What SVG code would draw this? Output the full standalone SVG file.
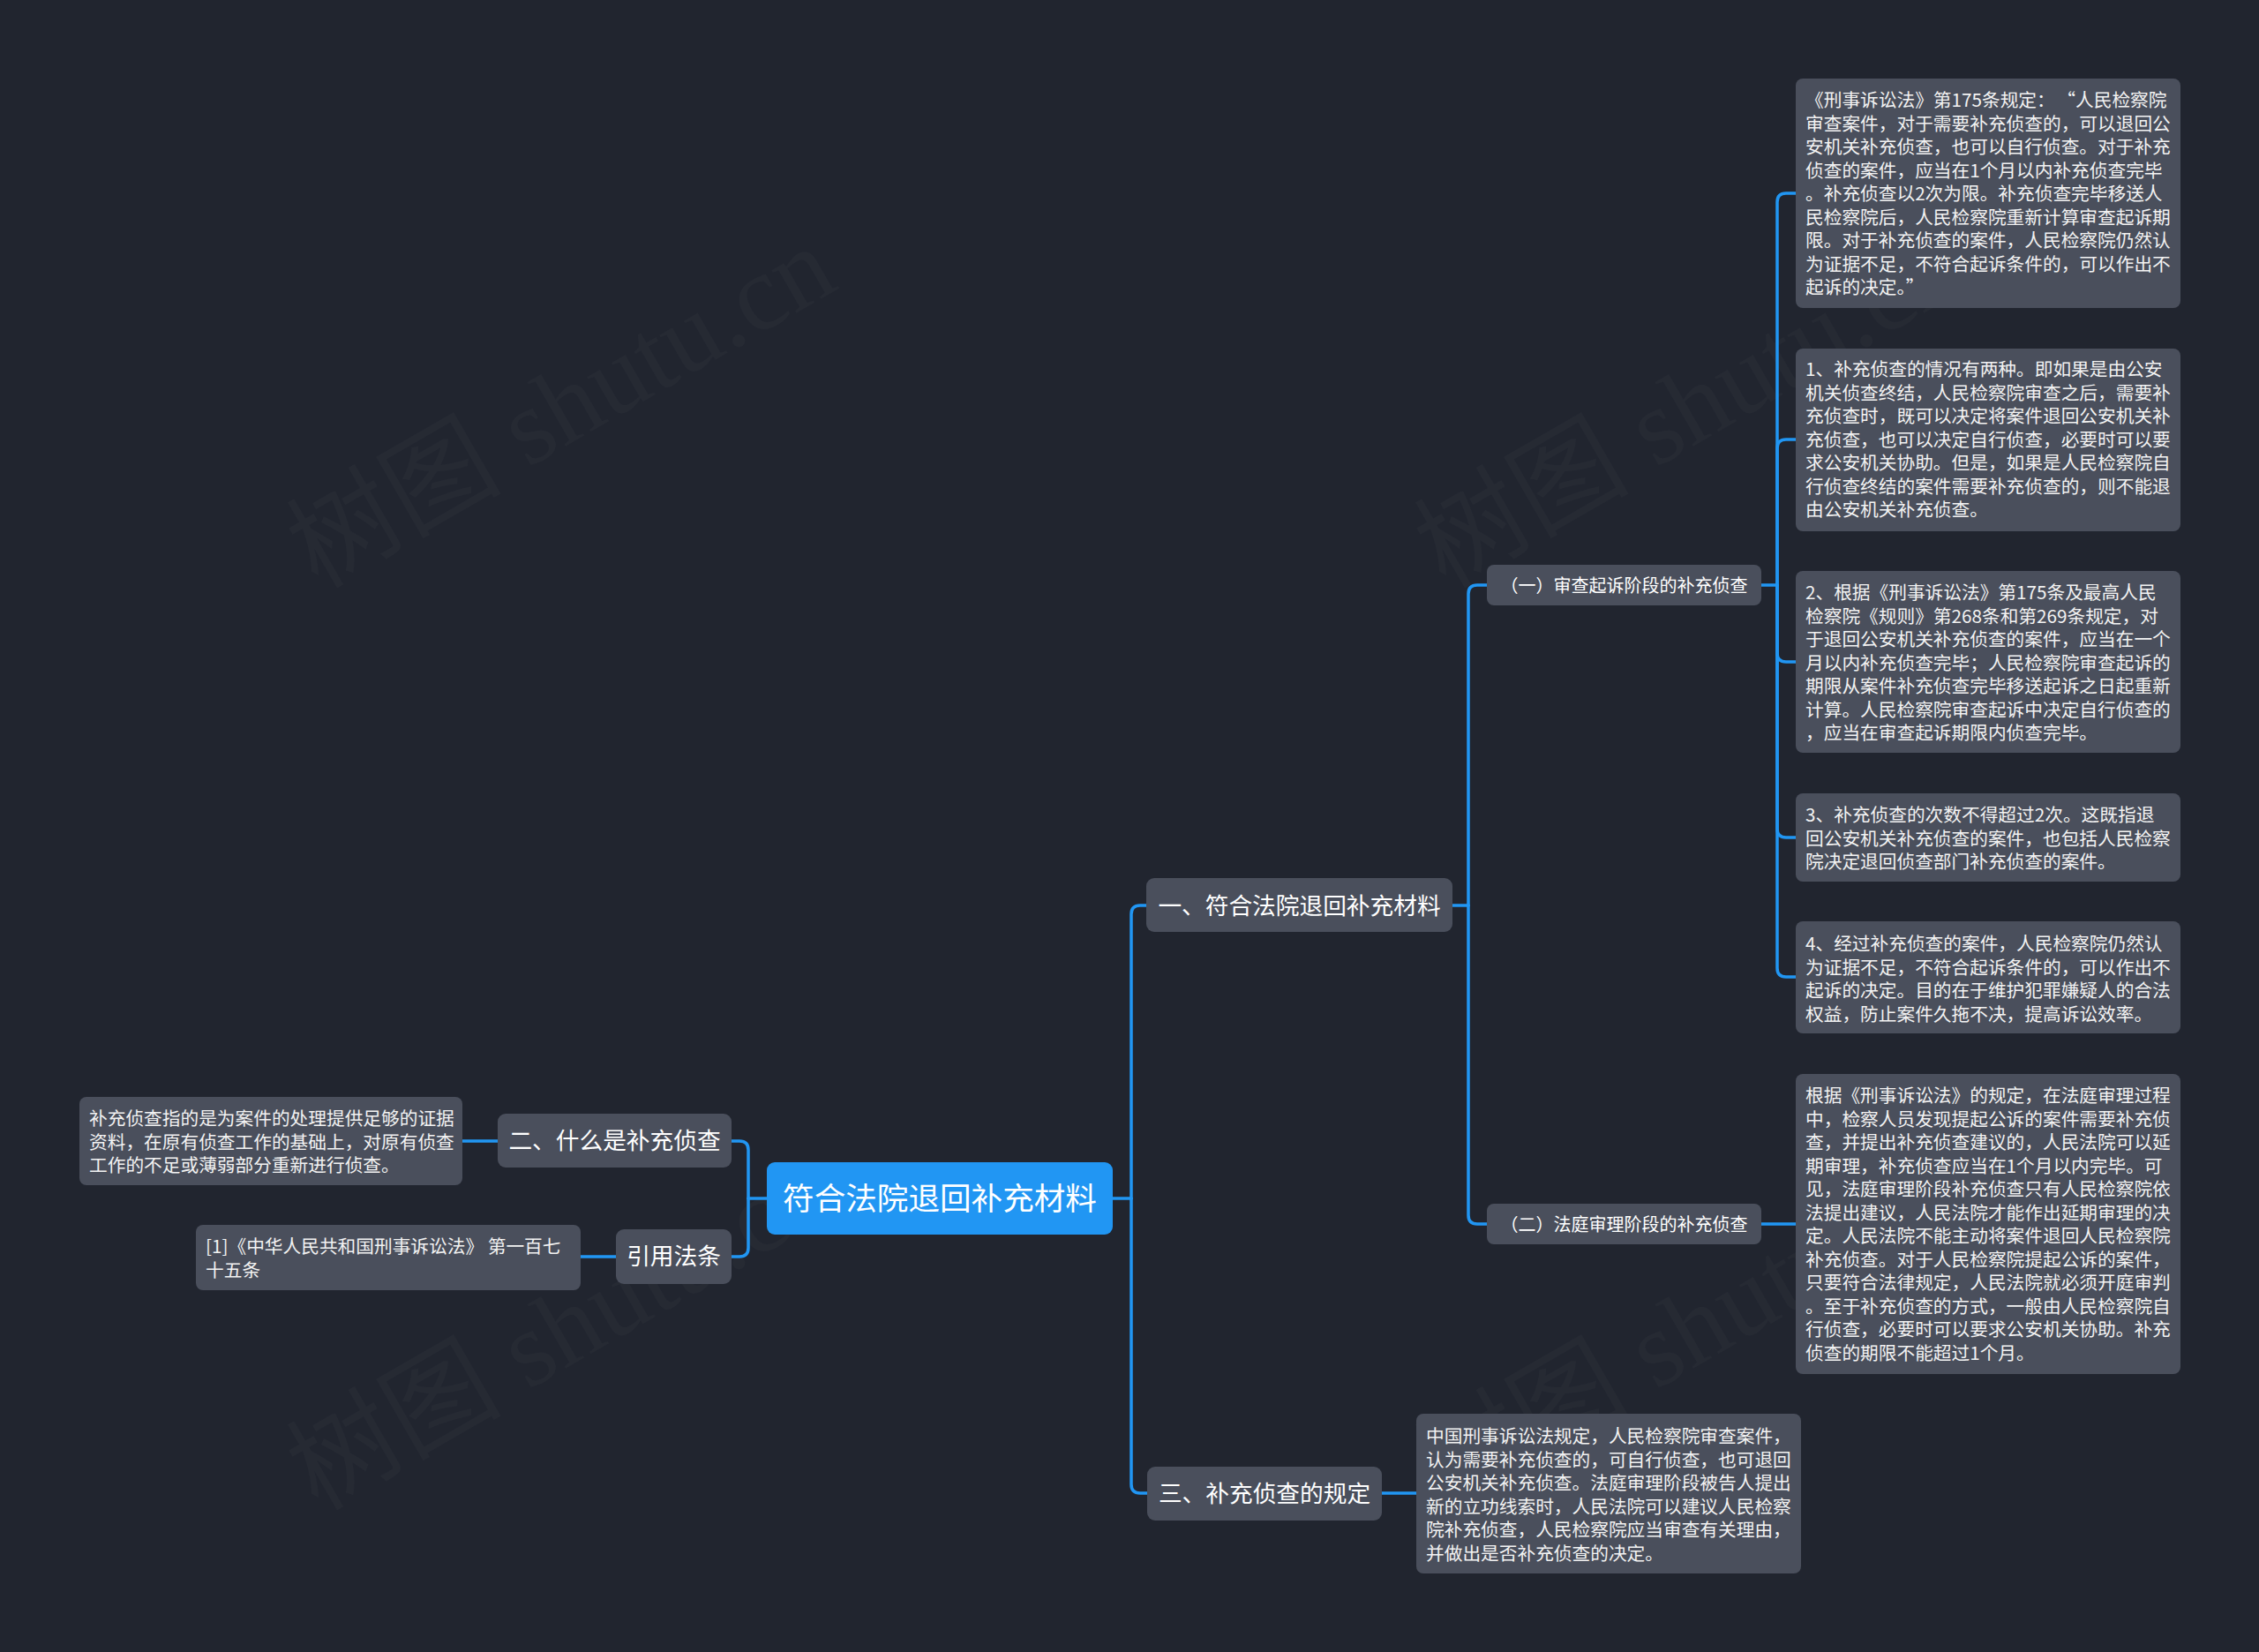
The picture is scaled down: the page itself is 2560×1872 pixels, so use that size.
<svg xmlns="http://www.w3.org/2000/svg" width="2560" height="1872" viewBox="0 0 2560 1872">
<style>
.bg{fill:#21252f}
.wm{font-family:"Liberation Serif","Noto Sans CJK SC",serif;font-size:122px;fill:#ffffff;fill-opacity:0.025}
.node{fill:#4a4f5c}
.root{fill:#2196f3}
.leaf{fill:#4a4f5c}
.t{font-family:"Noto Sans CJK SC","Microsoft YaHei",sans-serif;fill:#ffffff}
.tm{font-size:26.7px;text-anchor:middle}
.ts{font-size:20px;text-anchor:middle}
.tr{font-size:35.6px;text-anchor:middle}
.tl{font-size:20.7px;fill:#f2f2f2}
.c{fill:none;stroke:#2196f3;stroke-width:3.5;stroke-linecap:round}
</style>
<rect class="bg" x="0" y="0" width="2560" height="1872"/>
<g id="watermarks">
<text class="wm" transform="translate(360,668) rotate(-30)">树图 shutu.cn</text>
<text class="wm" transform="translate(1638,668) rotate(-30)">树图 shutu.cn</text>
<text class="wm" transform="translate(360,1713) rotate(-30)">树图 shutu.cn</text>
<text class="wm" transform="translate(1638,1713) rotate(-30)">树图 shutu.cn</text>
</g>
<g id="connectors">
<path class="c" d="M869,1358 H848"/>
<path class="c" d="M848,1358 V1303 Q848,1293 838,1293 H829"/>
<path class="c" d="M848,1358 V1414 Q848,1424 838,1424 H829"/>
<path class="c" d="M524,1293 H564"/>
<path class="c" d="M658,1424 H698"/>
<path class="c" d="M1261,1358 H1282"/>
<path class="c" d="M1282,1358 V1036 Q1282,1026 1292,1026 H1299"/>
<path class="c" d="M1282,1358 V1682 Q1282,1692 1292,1692 H1300"/>
<path class="c" d="M1646,1026 H1664"/>
<path class="c" d="M1664,1026 V673 Q1664,663 1674,663 H1685"/>
<path class="c" d="M1664,1026 V1377 Q1664,1387 1674,1387 H1685"/>
<path class="c" d="M1566,1692 H1605"/>
<path class="c" d="M1996,663 H2014"/>
<path class="c" d="M2014,663 V229 Q2014,219 2024,219 H2035"/>
<path class="c" d="M2014,663 V508 Q2014,498 2024,498 H2035"/>
<path class="c" d="M2014,663 V740 Q2014,750 2024,750 H2035"/>
<path class="c" d="M2014,663 V939 Q2014,949 2024,949 H2035"/>
<path class="c" d="M2014,663 V1097 Q2014,1107 2024,1107 H2035"/>
<path class="c" d="M1996,1387 H2035"/>
</g>
<g id="root">
<rect class="root" x="869" y="1317" width="392" height="82" rx="9"/>
<text class="t tr" x="1065" y="1371">符合法院退回补充材料</text>
</g>
<g id="n1">
<rect class="node" x="1299" y="995" width="347" height="61" rx="9"/>
<text class="t tm" x="1472.5" y="1036">一、符合法院退回补充材料</text>
</g>
<g id="n1a">
<rect class="node" x="1685" y="640" width="311" height="46" rx="8"/>
<text class="t ts" x="1840.5" y="670.5">（一）审查起诉阶段的补充侦查</text>
</g>
<g id="n1b">
<rect class="node" x="1685" y="1364" width="311" height="46" rx="8"/>
<text class="t ts" x="1840.5" y="1394.5">（二）法庭审理阶段的补充侦查</text>
</g>
<g id="leaf1">
<rect class="leaf" x="2035" y="89" width="436" height="260" rx="8"/>
<text class="t tl" x="2046" y="121">
<tspan x="2046" y="121">《刑事诉讼法》第175条规定：<tspan dx="13">“</tspan>人民检察院</tspan>
<tspan x="2046" y="147.5">审查案件，对于需要补充侦查的，可以退回公</tspan>
<tspan x="2046" y="174">安机关补充侦查，也可以自行侦查。对于补充</tspan>
<tspan x="2046" y="200.5">侦查的案件，应当在1个月以内补充侦查完毕</tspan>
<tspan x="2046" y="227">。补充侦查以2次为限。补充侦查完毕移送人</tspan>
<tspan x="2046" y="253.5">民检察院后，人民检察院重新计算审查起诉期</tspan>
<tspan x="2046" y="280">限。对于补充侦查的案件，人民检察院仍然认</tspan>
<tspan x="2046" y="306.5">为证据不足，不符合起诉条件的，可以作出不</tspan>
<tspan x="2046" y="333">起诉的决定。”</tspan>
</text>
</g>
<g id="leaf2">
<rect class="leaf" x="2035" y="395" width="436" height="207" rx="8"/>
<text class="t tl" x="2046" y="426">
<tspan x="2046" y="426">1、补充侦查的情况有两种。即如果是由公安</tspan>
<tspan x="2046" y="452.5">机关侦查终结，人民检察院审查之后，需要补</tspan>
<tspan x="2046" y="479">充侦查时，既可以决定将案件退回公安机关补</tspan>
<tspan x="2046" y="505.5">充侦查，也可以决定自行侦查，必要时可以要</tspan>
<tspan x="2046" y="532">求公安机关协助。但是，如果是人民检察院自</tspan>
<tspan x="2046" y="558.5">行侦查终结的案件需要补充侦查的，则不能退</tspan>
<tspan x="2046" y="585">由公安机关补充侦查。</tspan>
</text>
</g>
<g id="leaf3">
<rect class="leaf" x="2035" y="647" width="436" height="206" rx="8"/>
<text class="t tl" x="2046" y="679">
<tspan x="2046" y="679">2、根据《刑事诉讼法》第175条及最高人民</tspan>
<tspan x="2046" y="705.5">检察院《规则》第268条和第269条规定，对</tspan>
<tspan x="2046" y="732">于退回公安机关补充侦查的案件，应当在一个</tspan>
<tspan x="2046" y="758.5">月以内补充侦查完毕；人民检察院审查起诉的</tspan>
<tspan x="2046" y="785">期限从案件补充侦查完毕移送起诉之日起重新</tspan>
<tspan x="2046" y="811.5">计算。人民检察院审查起诉中决定自行侦查的</tspan>
<tspan x="2046" y="838">，应当在审查起诉期限内侦查完毕。</tspan>
</text>
</g>
<g id="leaf4">
<rect class="leaf" x="2035" y="899" width="436" height="100" rx="8"/>
<text class="t tl" x="2046" y="931">
<tspan x="2046" y="931">3、补充侦查的次数不得超过2次。这既指退</tspan>
<tspan x="2046" y="957.5">回公安机关补充侦查的案件，也包括人民检察</tspan>
<tspan x="2046" y="984">院决定退回侦查部门补充侦查的案件。</tspan>
</text>
</g>
<g id="leaf5">
<rect class="leaf" x="2035" y="1044" width="436" height="127" rx="8"/>
<text class="t tl" x="2046" y="1077">
<tspan x="2046" y="1077">4、经过补充侦查的案件，人民检察院仍然认</tspan>
<tspan x="2046" y="1103.5">为证据不足，不符合起诉条件的，可以作出不</tspan>
<tspan x="2046" y="1130">起诉的决定。目的在于维护犯罪嫌疑人的合法</tspan>
<tspan x="2046" y="1156.5">权益，防止案件久拖不决，提高诉讼效率。</tspan>
</text>
</g>
<g id="leaf6">
<rect class="leaf" x="2035" y="1217" width="436" height="340" rx="8"/>
<text class="t tl" x="2046" y="1249">
<tspan x="2046" y="1249">根据《刑事诉讼法》的规定，在法庭审理过程</tspan>
<tspan x="2046" y="1275.5">中，检察人员发现提起公诉的案件需要补充侦</tspan>
<tspan x="2046" y="1302">查，并提出补充侦查建议的，人民法院可以延</tspan>
<tspan x="2046" y="1328.5">期审理，补充侦查应当在1个月以内完毕。可</tspan>
<tspan x="2046" y="1355">见，法庭审理阶段补充侦查只有人民检察院依</tspan>
<tspan x="2046" y="1381.5">法提出建议，人民法院才能作出延期审理的决</tspan>
<tspan x="2046" y="1408">定。人民法院不能主动将案件退回人民检察院</tspan>
<tspan x="2046" y="1434.5">补充侦查。对于人民检察院提起公诉的案件，</tspan>
<tspan x="2046" y="1461">只要符合法律规定，人民法院就必须开庭审判</tspan>
<tspan x="2046" y="1487.5">。至于补充侦查的方式，一般由人民检察院自</tspan>
<tspan x="2046" y="1514">行侦查，必要时可以要求公安机关协助。补充</tspan>
<tspan x="2046" y="1540.5">侦查的期限不能超过1个月。</tspan>
</text>
</g>
<g id="n3">
<rect class="node" x="1300" y="1662" width="266" height="61" rx="9"/>
<text class="t tm" x="1433" y="1702">三、补充侦查的规定</text>
</g>
<g id="leaf7">
<rect class="leaf" x="1605" y="1602" width="436" height="181" rx="8"/>
<text class="t tl" x="1616" y="1635">
<tspan x="1616" y="1635">中国刑事诉讼法规定，人民检察院审查案件，</tspan>
<tspan x="1616" y="1661.5">认为需要补充侦查的，可自行侦查，也可退回</tspan>
<tspan x="1616" y="1688">公安机关补充侦查。法庭审理阶段被告人提出</tspan>
<tspan x="1616" y="1714.5">新的立功线索时，人民法院可以建议人民检察</tspan>
<tspan x="1616" y="1741">院补充侦查，人民检察院应当审查有关理由，</tspan>
<tspan x="1616" y="1767.5">并做出是否补充侦查的决定。</tspan>
</text>
</g>
<g id="n2">
<rect class="node" x="564" y="1262" width="265" height="61" rx="9"/>
<text class="t tm" x="696.5" y="1302">二、什么是补充侦查</text>
</g>
<g id="leaf8">
<rect class="leaf" x="90" y="1243" width="434" height="100" rx="8"/>
<text class="t tl" x="101" y="1275">
<tspan x="101" y="1275">补充侦查指的是为案件的处理提供足够的证据</tspan>
<tspan x="101" y="1301.5">资料，在原有侦查工作的基础上，对原有侦查</tspan>
<tspan x="101" y="1328">工作的不足或薄弱部分重新进行侦查。</tspan>
</text>
</g>
<g id="n4">
<rect class="node" x="698" y="1393" width="131" height="62" rx="9"/>
<text class="t tm" x="763.5" y="1433">引用法条</text>
</g>
<g id="leaf9">
<rect class="leaf" x="222" y="1388" width="436" height="74" rx="8"/>
<text class="t tl" x="233" y="1420">
<tspan x="233" y="1420">[1]《中华人民共和国刑事诉讼法》 第一百七</tspan>
<tspan x="233" y="1446.5">十五条</tspan>
</text>
</g>
</svg>
